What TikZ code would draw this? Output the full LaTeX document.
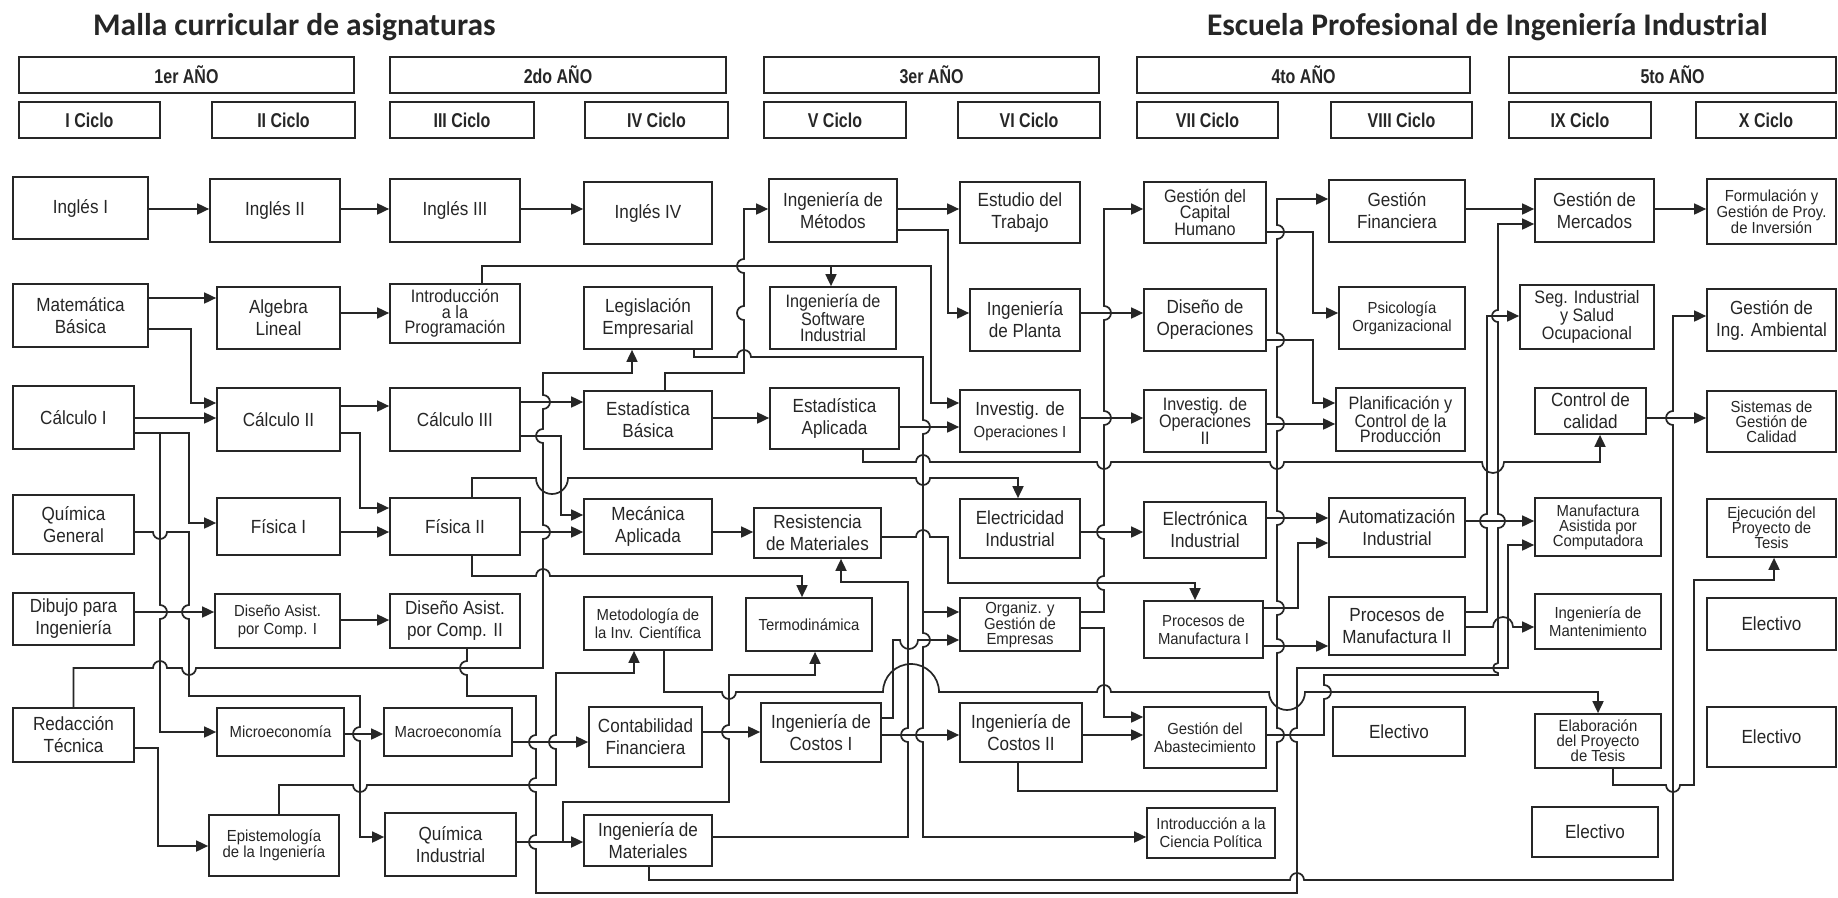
\documentclass[tikz,border=0pt]{standalone}
\usepackage{fontspec}
\usetikzlibrary{arrows.meta}
\setmainfont{Liberation Sans}
\newfontfamily\cf[FakeStretch=0.9]{Liberation Sans}
\newfontfamily\cfs[FakeStretch=0.93]{Liberation Sans}
\newfontfamily\hf[FakeStretch=0.8]{Liberation Sans}
\newfontfamily\tf{Carlito}
\definecolor{ink}{HTML}{262626}
% course box: name, x1, y1, x2, y2, font style, text (pixel coordinates, y downwards)
\newcommand\mkcourse[7]{\node[cbox,#6,minimum width={#4-#2},minimum height={#5-#3}] (#1) at ({(#2+#4)/2},{(#3+#5)/2}) {#7};}
\begin{document}
\begin{tikzpicture}[x=1pt,y=-1pt,
  cbox/.style={draw=ink,line width=1.7pt,fill=white,inner sep=0pt,align=center,text=ink},
  hdr/.style={font=\hf\bfseries\fontsize{20}{22}\selectfont},
  fnorm/.style={font=\cf\fontsize{19}{22}\selectfont},
  ftight/.style={font=\cf\fontsize{18}{15.5}\selectfont},
  fsmall/.style={font=\cfs\fontsize{16}{18}\selectfont},
  fsmt/.style={font=\cfs\fontsize{16}{15}\selectfont},
  conn/.style={draw=ink,line width=1.7pt,-{Triangle[length=12pt,width=11pt]}},
  ttl/.style={inner sep=0pt,text=ink,font=\tf\bfseries\fontsize{31.5}{34}\selectfont},
  % line hops: x, y of the crossing, radius
  hR/.style n args={3}{insert path={-- (#1-#3,#2) arc[start angle=180,end angle=0,radius=#3pt]}},
  hRd/.style n args={3}{insert path={-- (#1-#3,#2) arc[start angle=180,end angle=360,radius=#3pt]}},
  vD/.style n args={3}{insert path={-- (#1,#2-#3) arc[start angle=90,end angle=270,radius=#3pt]}},
  vDr/.style n args={3}{insert path={-- (#1,#2-#3) arc[start angle=90,end angle=-90,radius=#3pt]}},
  vU/.style n args={3}{insert path={-- (#1,#2+#3) arc[start angle=270,end angle=90,radius=#3pt]}},
  vUr/.style n args={3}{insert path={-- (#1,#2+#3) arc[start angle=-90,end angle=90,radius=#3pt]}},
]
\fill[white] (0,0) rectangle (1838,897);
\useasboundingbox (0,0) rectangle (1838,897);

% titles
\node[ttl,anchor=base west] (t1) at (93,35) {Malla curricular de asignaturas};
\node[ttl,anchor=base east] (t2) at (1768,35) {Escuela Profesional de Ingeniería Industrial};

% years
\mkcourse{y1}{19}{57}{354}{93}{hdr}{1er AÑO}
\mkcourse{y2}{390}{57}{726}{93}{hdr}{2do AÑO}
\mkcourse{y3}{764}{57}{1099}{93}{hdr}{3er AÑO}
\mkcourse{y4}{1137}{57}{1470}{93}{hdr}{4to AÑO}
\mkcourse{y5}{1509}{57}{1836}{93}{hdr}{5to AÑO}
% cycles
\mkcourse{k1}{19}{102}{160}{138}{hdr}{I Ciclo}
\mkcourse{k2}{212}{102}{355}{138}{hdr}{II Ciclo}
\mkcourse{k3}{390}{102}{534}{138}{hdr}{III Ciclo}
\mkcourse{k4}{585}{102}{728}{138}{hdr}{IV Ciclo}
\mkcourse{k5}{764}{102}{906}{138}{hdr}{V Ciclo}
\mkcourse{k6}{958}{102}{1100}{138}{hdr}{VI Ciclo}
\mkcourse{k7}{1137}{102}{1278}{138}{hdr}{VII Ciclo}
\mkcourse{k8}{1331}{102}{1472}{138}{hdr}{VIII Ciclo}
\mkcourse{k9}{1509}{102}{1651}{138}{hdr}{IX Ciclo}
\mkcourse{k10}{1696}{102}{1836}{138}{hdr}{X Ciclo}

% I
\mkcourse{ing1}{13}{177}{148}{239}{fnorm}{Inglés I}
\mkcourse{mat}{13}{284}{148}{347}{fnorm}{Matemática\\Básica}
\mkcourse{cal1}{13}{386}{134}{449}{fnorm}{Cálculo I}
\mkcourse{qgen}{13}{495}{134}{554}{fnorm}{Química\\General}
\mkcourse{dib}{13}{593}{134}{645}{fnorm}{Dibujo para\\Ingeniería}
\mkcourse{red}{13}{708}{134}{762}{fnorm}{Redacción\\Técnica}
% II
\mkcourse{ing2}{210}{179}{340}{242}{fnorm}{Inglés II}
\mkcourse{alg}{217}{287}{340}{349}{fnorm}{Algebra\\Lineal}
\mkcourse{cal2}{217}{388}{340}{451}{fnorm}{Cálculo II}
\mkcourse{fis1}{217}{498}{340}{555}{fnorm}{Física I}
\mkcourse{dac1}{215}{594}{340}{648}{fsmall}{Diseño Asist.\\por Comp. I}
\mkcourse{micro}{217}{708}{344}{756}{fsmall}{Microeconomía}
\mkcourse{epi}{209}{815}{339}{876}{fsmt}{Epistemología\\de la Ingeniería}
% III
\mkcourse{ing3}{390}{179}{520}{242}{fnorm}{Inglés III}
\mkcourse{intro}{390}{284}{520}{343}{ftight}{Introducción\\a la\\Programación}
\mkcourse{cal3}{390}{388}{520}{451}{fnorm}{Cálculo III}
\mkcourse{fis2}{390}{498}{520}{555}{fnorm}{Física II}
\mkcourse{dac2}{390}{594}{520}{648}{fnorm}{Diseño Asist.\\por Comp. II}
\mkcourse{macro}{384}{708}{512}{756}{fsmall}{Macroeconomía}
\mkcourse{qind}{385}{813}{516}{876}{fnorm}{Química\\Industrial}
% IV
\mkcourse{ing4}{584}{182}{712}{244}{fnorm}{Inglés IV}
\mkcourse{leg}{584}{287}{712}{349}{fnorm}{Legislación\\Empresarial}
\mkcourse{estb}{584}{391}{712}{449}{fnorm}{Estadística\\Básica}
\mkcourse{mec}{584}{499}{712}{554}{fnorm}{Mecánica\\Aplicada}
\mkcourse{met}{584}{597}{712}{650}{fsmall}{Metodología de\\la Inv. Científica}
\mkcourse{cont}{589}{707}{702}{767}{fnorm}{Contabilidad\\Financiera}
\mkcourse{imat}{584}{815}{712}{866}{fnorm}{Ingeniería de\\Materiales}
% V
\mkcourse{imet}{769}{179}{897}{242}{fnorm}{Ingeniería de\\Métodos}
\mkcourse{soft}{770}{287}{896}{349}{ftight}{Ingeniería de\\Software\\Industrial}
\mkcourse{esta}{770}{388}{899}{449}{fnorm}{Estadística\\Aplicada}
\mkcourse{res}{754}{508}{881}{558}{fnorm}{Resistencia\\de Materiales}
\mkcourse{termo}{746}{598}{872}{651}{fsmall}{Termodinámica}
\mkcourse{cos1}{761}{703}{881}{762}{fnorm}{Ingeniería de\\Costos I}
% VI
\mkcourse{etra}{960}{182}{1080}{243}{fnorm}{Estudio del\\Trabajo}
\mkcourse{plan}{970}{289}{1080}{351}{fnorm}{Ingeniería\\de Planta}
\mkcourse{io1}{960}{390}{1080}{452}{fnorm}{Investig. de\\{\cfs\fontsize{16}{18}\selectfont Operaciones I}}
\mkcourse{elec}{960}{499}{1080}{558}{fnorm}{Electricidad\\Industrial}
\mkcourse{org}{960}{598}{1080}{651}{fsmt}{Organiz. y\\Gestión de\\Empresas}
\mkcourse{cos2}{960}{703}{1082}{762}{fnorm}{Ingeniería de\\Costos II}
% VII
\mkcourse{gch}{1144}{182}{1266}{243}{ftight}{Gestión del\\Capital\\Humano}
\mkcourse{dop}{1144}{289}{1266}{351}{fnorm}{Diseño de\\Operaciones}
\mkcourse{io2}{1144}{390}{1266}{452}{ftight}{Investig. de\\Operaciones\\II}
\mkcourse{eln}{1144}{502}{1266}{558}{fnorm}{Electrónica\\Industrial}
\mkcourse{pm1}{1144}{601}{1263}{658}{fsmall}{Procesos de\\Manufactura I}
\mkcourse{abas}{1144}{707}{1266}{768}{fsmall}{Gestión del\\Abastecimiento}
\mkcourse{cpol}{1147}{808}{1275}{858}{fsmall}{Introducción a la\\Ciencia Política}
% VIII
\mkcourse{gfin}{1329}{180}{1465}{242}{fnorm}{Gestión\\Financiera}
\mkcourse{psi}{1339}{287}{1465}{349}{fsmall}{Psicología\\Organizacional}
\mkcourse{pcp}{1336}{388}{1465}{451}{ftight}{Planificación y\\Control de la\\Producción}
\mkcourse{aut}{1329}{498}{1465}{557}{fnorm}{Automatización\\Industrial}
\mkcourse{pm2}{1329}{597}{1465}{655}{fnorm}{Procesos de\\Manufactura II}
\mkcourse{ele8}{1333}{707}{1465}{756}{fnorm}{Electivo}
% IX
\mkcourse{gmer}{1535}{179}{1654}{242}{fnorm}{Gestión de\\Mercados}
\mkcourse{seg}{1520}{285}{1654}{349}{ftight}{Seg. Industrial\\y Salud\\Ocupacional}
\mkcourse{cal}{1535}{388}{1646}{434}{fnorm}{Control de\\calidad}
\mkcourse{mac}{1535}{498}{1661}{556}{fsmt}{Manufactura\\Asistida por\\Computadora}
\mkcourse{mant}{1535}{594}{1661}{649}{fsmall}{Ingeniería de\\Mantenimiento}
\mkcourse{elab}{1535}{714}{1661}{768}{fsmt}{Elaboración\\del Proyecto\\de Tesis}
\mkcourse{ele9}{1532}{807}{1658}{857}{fnorm}{Electivo}
% X
\mkcourse{form}{1707}{179}{1836}{244}{fsmt}{Formulación y\\Gestión de Proy.\\de Inversión}
\mkcourse{gam}{1707}{289}{1836}{351}{fnorm}{Gestión de\\Ing. Ambiental}
\mkcourse{sgc}{1707}{391}{1836}{452}{fsmt}{Sistemas de\\Gestión de\\Calidad}
\mkcourse{ejec}{1707}{499}{1836}{557}{fsmt}{Ejecución del\\Proyecto de\\Tesis}
\mkcourse{ele10a}{1707}{598}{1836}{650}{fnorm}{Electivo}
\mkcourse{ele10b}{1707}{707}{1836}{767}{fnorm}{Electivo}

% junction points of branching connectors
\coordinate (jsoft) at (831,266);
\coordinate (jleg) at (923,612);
\coordinate (jq) at (563,842);

% ---- prerequisites ----
\draw[conn] (ing1.east |- 0,209) -- (ing2.west |- 0,209);
\draw[conn] (ing2.east |- 0,209) -- (ing3.west |- 0,209);
\draw[conn] (ing3.east |- 0,209) -- (ing4.west |- 0,209);
\draw[conn] (imet.east |- 0,209) -- (etra.west |- 0,209);
\draw[conn] (gfin.east |- 0,209) -- (gmer.west |- 0,209);
\draw[conn] (gmer.east |- 0,209) -- (form.west |- 0,209);

\draw[conn] (mat.east |- 0,298) -- (alg.west |- 0,298);
\draw[conn] (mat.east |- 0,329) -- (191,329) -- (191,403) -- (cal2.west |- 0,403);
\draw[conn] (alg.east |- 0,313) -- (intro.west |- 0,313);

\draw[conn] (cal1.east |- 0,418) -- (cal2.west |- 0,418);
\draw[conn] (cal1.east |- 0,433) -- (189,433) -- (189,523) -- (fis1.west |- 0,523);
\draw[conn] (cal1.east |- 0,433) -- (160,433) [vDr={160}{612}{7}] -- (160,732) -- (micro.west |- 0,732);

\draw[conn] (qgen.east |- 0,532) [hRd={160}{532}{7}] -- (189,532) [vD={189}{612}{7}] -- (189,696) -- (360,696) [vD={360}{734}{7}] -- (360,837) -- (qind.west |- 0,837);

\draw[conn] (dib.east |- 0,612) -- (dac1.west |- 0,612);
\draw[conn] (dac1.east |- 0,620) -- (dac2.west |- 0,620);

\draw[conn] (red.north) -- (red.north |- 0,668) [hR={160}{668}{7}] [hRd={189}{668}{7}] -- (543,668) [vUr={543}{532}{7}] [vU={543}{436}{7}] [vUr={543}{402}{7}] -- (543,373) -- (632,373) -- (leg.south -| 632,0);
\draw[conn] (red.east |- 0,748) -- (158,748) -- (158,846) -- (epi.west |- 0,846);

\draw[conn] (cal2.east |- 0,406) -- (cal3.west |- 0,406);
\draw[conn] (cal2.east |- 0,433) -- (360,433) -- (360,508) -- (fis2.west |- 0,508);
\draw[conn] (fis1.east |- 0,532) -- (fis2.west |- 0,532);

\draw[conn] (intro.north -| 482,0) -- (482,266) -- (931,266) -- (931,403) -- (io1.west |- 0,403);
\draw[conn] (jsoft) -- (soft.north -| jsoft);

\draw[conn] (cal3.east |- 0,402) -- (estb.west |- 0,402);
\draw[conn] (cal3.east |- 0,436) -- (561,436) -- (561,515) -- (mec.west |- 0,515);

\draw[conn] (fis2.east |- 0,532) -- (mec.west |- 0,532);
\draw[conn] (fis2.north -| 472,0) -- (472,478) [hRd={552}{478}{16}] [hRd={923}{478}{7}] -- (1018,478) -- (elec.north -| 1018,0);
\draw[conn] (fis2.south -| 472,0) -- (472,576) [hR={543}{576}{7}] -- (802,576) -- (termo.north -| 802,0);

\draw[conn] (leg.south -| 694,0) -- (694,357) [hR={744}{357}{7}] -- (923,357) [vDr={923}{427}{7}] -- (jleg) -- (org.west |- jleg);
\draw[conn] (jleg) [vDr={923}{640}{7}] [vD={923}{735}{7}] -- (923,837) -- (cpol.west |- 0,837);

\draw[conn] (estb.north -| 665,0) -- (665,373) -- (744,373) [vU={744}{313}{7}] [vU={744}{266}{7}] -- (744,209) -- (imet.west |- 0,209);
\draw[conn] (estb.east |- 0,418) -- (esta.west |- 0,418);
\draw[conn] (mec.east |- 0,532) -- (res.west |- 0,532);

\draw[conn] (met.south -| 664,0) -- (664,692) [hRd={729}{692}{7}] [hR={911}{692}{28}] [hR={1104}{692}{7}] [hRd={1287}{692}{18}] -- (1598,692) -- (elab.north -| 1598,0);
\draw[conn] (cont.east |- 0,732) -- (cos1.west |- 0,732);

\draw[conn] (imat.east |- 0,837) -- (908,837) [vU={908}{735}{7}] -- (908,582) -- (841,582) -- (res.south -| 841,0);
\draw[conn] (imat.south -| 649,0) -- (649,880) [hR={1297}{880}{7}] -- (1673,880) [vU={1673}{418}{7}] -- (1673,316) -- (gam.west |- 0,316);

\draw[conn] (qind.east |- 0,842) -- (imat.west |- 0,842);
\draw[conn] (jq) -- (563,802) -- (729,802) [vU={729}{732}{7}] -- (729,675) -- (815,675) -- (termo.south -| 815,0);

\draw[conn] (epi.north -| 279,0) -- (279,785) [hRd={360}{785}{7}] -- (556,785) [vU={556}{742}{7}] -- (556,673) -- (634,673) -- (met.south -| 634,0);

\draw[conn] (micro.east |- 0,734) -- (macro.west |- 0,734);
\draw[conn] (macro.east |- 0,742) -- (cont.west |- 0,742);

\draw[conn] (dac2.south -| 467,0) [vD={467}{668}{7}] -- (467,696) -- (536,696) [vD={536}{742}{7}] [vD={536}{785}{7}] [vD={536}{842}{7}] -- (536,893) -- (1297,893) [vU={1297}{735}{7}] -- (1297,668) -- (1508,668) -- (1508,545) -- (mac.west |- 0,545);

\draw[conn] (res.east |- 0,537) [hR={923}{537}{7}] -- (948,537) -- (948,583) -- (1195,583) -- (pm1.north -| 1195,0);

\draw[conn] (imet.east |- 0,230) -- (948,230) -- (948,313) -- (plan.west |- 0,313);

\draw[conn] (esta.east |- 0,427) -- (io1.west |- 0,427);
\draw[conn] (esta.south -| 863,0) -- (863,462) [hR={923}{462}{7}] [hRd={1104}{462}{7}] [hRd={1277}{462}{7}] [hRd={1493}{462}{11}] -- (1600,462) -- (cal.south -| 1600,0);

\draw[conn] (cos1.east |- 0,735) -- (cos2.west |- 0,735);
\draw[conn] (cos1.east |- 0,718) -- (893,718) -- (893,640) [hRd={909}{640}{9}] -- (org.west |- 0,640);

\draw[conn] (plan.east |- 0,313) -- (dop.west |- 0,313);
\draw[conn] (io1.east |- 0,418) -- (io2.west |- 0,418);
\draw[conn] (elec.east |- 0,532) -- (eln.west |- 0,532);

\draw[conn] (org.east |- 0,612) -- (1104,612) [vU={1104}{583}{7}] [vU={1104}{532}{7}] [vUr={1104}{418}{7}] [vUr={1104}{313}{7}] -- (1104,209) -- (gch.west |- 0,209);
\draw[conn] (org.east |- 0,628) -- (1104,628) -- (1104,717) -- (abas.west |- 0,717);

\draw[conn] (cos2.east |- 0,735) -- (abas.west |- 0,735);
\draw[conn] (cos2.south -| 1018,0) -- (1018,791) -- (1277,791) [vUr={1277}{735}{7}] [vUr={1277}{646}{7}] [vUr={1277}{608}{7}] [vUr={1277}{518}{7}] [vUr={1277}{424}{7}] [vUr={1277}{340}{7}] [vUr={1277}{232}{7}] -- (1277,199) -- (gfin.west |- 0,199);

\draw[conn] (gch.east |- 0,232) -- (1313,232) -- (1313,313) -- (psi.west |- 0,313);
\draw[conn] (dop.east |- 0,340) -- (1313,340) -- (1313,403) -- (pcp.west |- 0,403);
\draw[conn] (io2.east |- 0,424) -- (pcp.west |- 0,424);
\draw[conn] (eln.east |- 0,518) -- (aut.west |- 0,518);

\draw[conn] (pm1.east |- 0,608) -- (1298,608) -- (1298,543) -- (aut.west |- 0,543);
\draw[conn] (pm1.east |- 0,646) -- (pm2.west |- 0,646);

\draw[conn] (abas.east |- 0,735) -- (1324,735) [vUr={1324}{692}{7}] -- (1324,675) -- (1498,675) [vU={1498}{668}{5}] [vUr={1498}{521}{7}] [vU={1498}{316}{6}] -- (1498,224) -- (gmer.west |- 0,224);

\draw[conn] (pm2.east |- 0,612) -- (1487,612) [vU={1487}{521}{7}] -- (1487,316) -- (seg.west |- 0,316);
\draw[conn] (pm2.east |- 0,627) [hR={1503}{627}{10}] -- (mant.west |- 0,627);
\draw[conn] (aut.east |- 0,521) -- (mac.west |- 0,521);
\draw[conn] (cal.east |- 0,418) -- (sgc.west |- 0,418);

\draw[conn] (elab.south -| 1613,0) -- (1613,785) [hRd={1673}{785}{7}] -- (1694,785) -- (1694,580) -- (1774,580) -- (ejec.south -| 1774,0);
\end{tikzpicture}
\end{document}
